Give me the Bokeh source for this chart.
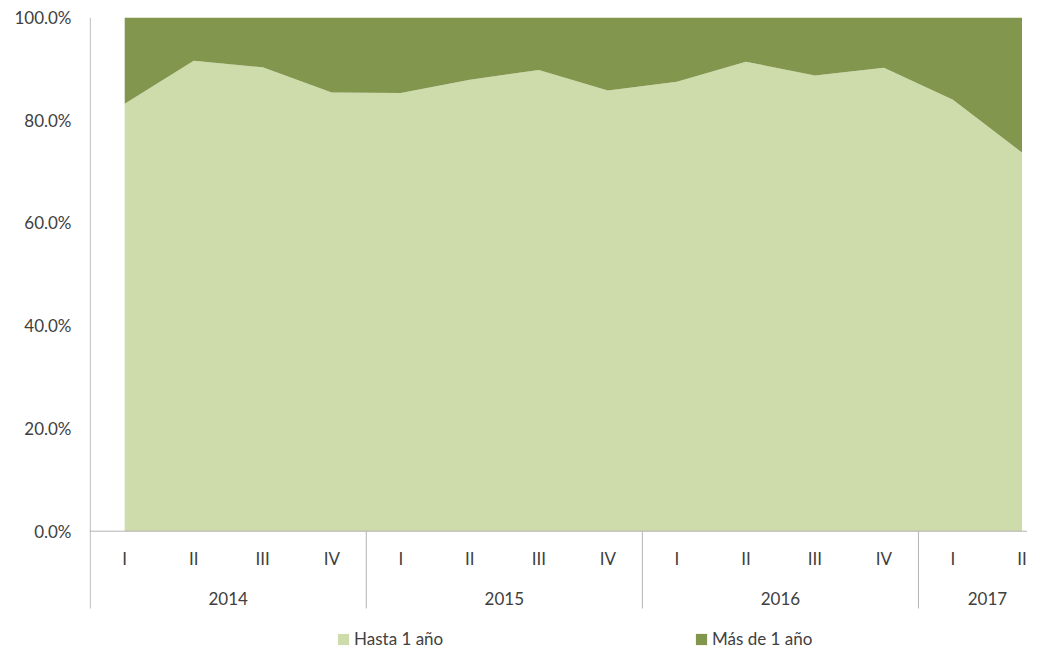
from bokeh.plotting import figure
from bokeh.models import ColumnDataSource, Range1d, FixedTicker, NumeralTickFormatter, Span, Legend, LegendItem
from bokeh.core.properties import value
from bokeh.embed import file_html
from bokeh.resources import INLINE

# ---- data ----
years = ["2014", "2015", "2016", "2017"]
quarters_per_year = [4, 4, 4, 2]
quarters = ["I", "II", "III", "IV", "I", "II", "III", "IV", "I", "II", "III", "IV", "I", "II"]
hasta_1_anio = [83.2, 91.6, 90.3, 85.4, 85.3, 87.9, 89.8, 85.8, 87.5, 91.4, 88.7, 90.2, 84.0, 73.7]
mas_de_1_anio = [16.8, 8.4, 9.7, 14.6, 14.7, 12.1, 10.2, 14.2, 12.5, 8.6, 11.3, 9.8, 16.0, 26.3]
series_names = ["Hasta 1 año", "Más de 1 año"]
colors = ["#CEDBAA", "#83964D"]
y_ticks = [0, 0.2, 0.4, 0.6, 0.8, 1.0]

# ---- derived (100% stacking) ----
n = len(quarters)
xs = list(range(n))
totals = [h + m for h, m in zip(hasta_1_anio, mas_de_1_anio)]
h_frac = [h / t for h, t in zip(hasta_1_anio, totals)]
top_frac = [(h + m) / t for h, m, t in zip(hasta_1_anio, mas_de_1_anio, totals)]
src = ColumnDataSource(dict(x=xs, base=[0.0] * n, h=h_frac, top=top_frac))

TEXT = "#404040"
AXIS = "#B3B3B3"
FONT = "Lato"

p = figure(width=1027, height=649,
           x_range=Range1d(-0.51, 13.08), y_range=Range1d(-0.2303, 1.0),
           output_backend="svg", toolbar_location=None,
           x_axis_location=None,
           min_border_left=89, min_border_right=0, min_border_top=17, min_border_bottom=0)
p.grid.visible = False
p.outline_line_color = None
p.background_fill_color = "white"

r1 = p.varea(x="x", y1="base", y2="h", source=src, fill_color=colors[0])
r2 = p.varea(x="x", y1="h", y2="top", source=src, fill_color=colors[1])

# y axis
p.yaxis.ticker = FixedTicker(ticks=y_ticks)
p.yaxis.formatter = NumeralTickFormatter(format="0.0%")
p.yaxis.axis_line_color = None
p.yaxis.major_tick_line_color = None
p.yaxis.minor_tick_line_color = None
p.yaxis.major_tick_out = 0
p.yaxis.major_label_standoff = 18
p.yaxis.major_label_text_font = FONT
p.yaxis.major_label_text_font_size = "17px"
p.yaxis.major_label_text_color = TEXT

# horizontal axis line
p.add_layout(Span(location=0, dimension="width", line_color=AXIS, line_width=1))

# group separators (boundaries between years); first one doubles as the y axis line
bounds = [-0.5]
for q in quarters_per_year[:-1]:
    bounds.append(bounds[-1] + q)
sep_bottom = -0.1505
p.segment(x0=bounds, y0=[sep_bottom] * len(bounds), x1=bounds,
          y1=[1.0] + [0.0] * (len(bounds) - 1), line_color=AXIS, line_width=1)

# quarter labels
p.text(x=xs, y=[0.0] * n, text=quarters, y_offset=27,
       text_align="center", text_baseline="middle",
       text_font=value(FONT), text_font_size=value("17px"), text_color=TEXT)

# year labels
centers = []
start = 0
for q in quarters_per_year:
    centers.append(start + (q - 1) / 2)
    start += q
p.text(x=centers, y=[0.0] * len(centers), text=years, y_offset=67,
       text_align="center", text_baseline="middle",
       text_font=value(FONT), text_font_size=value("17px"), text_color=TEXT)

# legends
for name, r, loc in zip(series_names, [r1, r2], [(247, 0), (605, 0)]):
    leg = Legend(items=[LegendItem(label=name, renderers=[r])], location=loc,
                 orientation="horizontal", glyph_width=14, glyph_height=14,
                 label_standoff=4, padding=0, margin=0, border_line_color=None,
                 background_fill_alpha=0, label_text_font=FONT,
                 label_text_font_size="17px", label_text_color=TEXT)
    p.add_layout(leg)

open("out.html", "w").write(file_html(p, INLINE))
